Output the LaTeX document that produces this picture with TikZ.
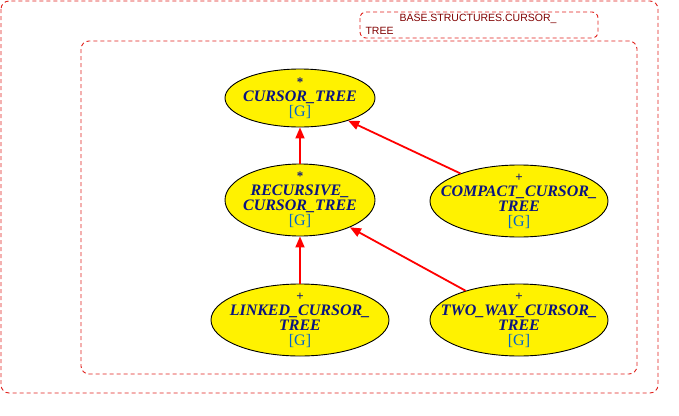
\documentclass[tikz,border=0pt]{standalone}
\usepackage{fontspec}
\setmainfont{Liberation Serif}
\newfontfamily\clusterfont{Liberation Sans}
\usetikzlibrary{shapes.geometric,arrows.meta}
\definecolor{clusterred}{RGB}{224,32,27}
\definecolor{labelred}{RGB}{128,0,0}
\definecolor{classblue}{RGB}{10,20,128}
\definecolor{genblue}{RGB}{0,102,204}
\tikzset{
  cluster/.style={draw=clusterred,dash pattern=on 4pt off 3pt,rounded corners=8pt,line width=0.9pt},
  classnode/.style={ellipse,draw=black,fill=yellow,line width=0.9pt,inner sep=0pt},
  classtext/.style={inner sep=0pt,align=center,
    font=\fontsize{16}{15}\selectfont\bfseries\itshape,text=classblue},
  inherit/.style={draw=red,line width=1.8pt,-{Triangle[length=11pt,width=9pt]}}
}
\newcommand{\gen}{\\{\upshape\mdseries\color{genblue}[G]}}
\newcommand{\abstr}{{\upshape\fontsize{13}{10}\selectfont *}\\}
\newcommand{\eff}{{\upshape\fontsize{13}{10}\selectfont +}\\}
\begin{document}
\begin{tikzpicture}[x=1pt,y=-1pt]
\useasboundingbox (0,0) rectangle (679,415);

\draw[cluster] (1,1) rectangle (658,393);
\draw[cluster] (81,41) rectangle (637,374);
\draw[cluster,rounded corners=6pt] (360,12) rectangle (598,38);
\node[font=\clusterfont\fontsize{10.5}{10}\selectfont,text=labelred,anchor=west] (title1) at (396,19) {BASE.STRUCTURES.CURSOR\_};
\node[font=\clusterfont\fontsize{10.5}{10}\selectfont,text=labelred,anchor=west] (title2) at (362,31) {TREE};

\node[classnode,minimum width=150,minimum height=58] (cursor) at (300,98) {};
\node[classnode,minimum width=150,minimum height=72] (recursive) at (300,200) {};
\node[classnode,minimum width=178,minimum height=72] (compact) at (519,201) {};
\node[classnode,minimum width=178,minimum height=72] (linked) at (300,320) {};
\node[classnode,minimum width=178,minimum height=72] (twoway) at (519,320) {};

\node[classtext] (cursortext) at (cursor) {\abstr CURSOR\_TREE\gen};
\node[classtext] (recursivetext) at (recursive) {\abstr RECURSIVE\_\\CURSOR\_TREE\gen};
\node[classtext] (compacttext) at (compact) {\eff COMPACT\_CURSOR\_\\TREE\gen};
\node[classtext] (linkedtext) at (linked) {\eff LINKED\_CURSOR\_\\TREE\gen};
\node[classtext] (twowaytext) at (twoway) {\eff TWO\_WAY\_CURSOR\_\\TREE\gen};

\draw[inherit] (recursive) -- (cursor);
\draw[inherit] (compact) -- (cursor);
\draw[inherit] (linked) -- (recursive);
\draw[inherit] (twoway) -- (recursive);
\end{tikzpicture}
\end{document}
